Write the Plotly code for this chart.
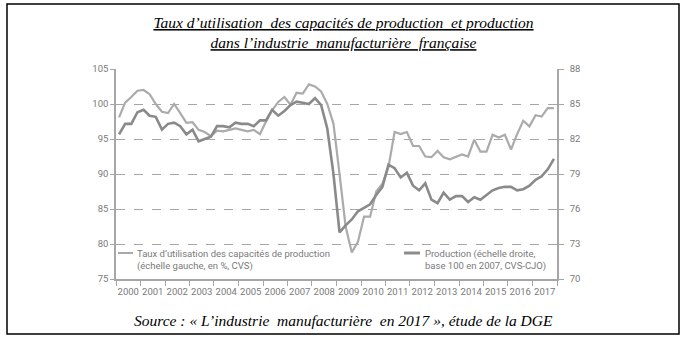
import plotly.graph_objects as go
import pandas as pd

# ---- data (quarterly, 2000Q1 - 2017Q4) ----
years = list(range(2000, 2018))
quarters = pd.period_range("2000Q1", "2017Q4", freq="Q")
q_mid = [p.start_time + (p.end_time - p.start_time) / 2 for p in quarters]

# Taux d'utilisation des capacités de production (left axis, %)
taux = [98.1, 100.2, 101.0, 101.9, 102.0, 101.4, 100.0, 98.9,
        98.7, 100.0, 98.7, 97.3, 97.4, 96.3, 96.0, 95.4,
        96.2, 96.1, 96.3, 96.5, 96.3, 96.1, 96.3, 95.7,
        97.5, 99.1, 100.3, 101.0, 99.9, 101.6, 101.5, 102.8,
        102.5, 101.8, 100.0, 97.2, 90.0, 82.5, 78.8, 80.3,
        83.9, 83.9, 87.5, 88.6, 91.0, 96.0, 95.7, 96.0,
        94.0, 94.0, 92.5, 92.4, 93.3, 92.4, 92.1, 92.5,
        92.8, 92.5, 94.9, 93.2, 93.2, 95.6, 95.2, 95.6,
        93.5, 95.7, 97.6, 96.8, 98.4, 98.2, 99.4, 99.4]

# Production (right axis)
production = [82.4, 83.3, 83.3, 84.3, 84.5, 84.0, 83.9, 82.8,
              83.3, 83.4, 83.1, 82.4, 82.8, 81.8, 82.0, 82.2,
              83.1, 83.1, 83.0, 83.4, 83.3, 83.3, 83.1, 83.6,
              83.6, 84.5, 84.0, 84.4, 84.9, 85.2, 85.1, 85.0,
              85.5, 84.9, 82.9, 79.0, 74.0, 74.6, 75.1, 75.8,
              76.1, 76.4, 77.2, 77.9, 79.8, 79.5, 78.7, 79.1,
              78.0, 77.6, 78.2, 76.8, 76.5, 77.4, 76.8, 77.1,
              77.1, 76.6, 77.0, 76.8, 77.2, 77.6, 77.8, 77.9,
              77.9, 77.6, 77.7, 78.0, 78.5, 78.8, 79.4, 80.3]

left_ticks = [75, 80, 85, 90, 95, 100, 105]
right_ticks = [70, 73, 76, 79, 82, 85, 88]

title_text = ("<u>Taux d’utilisation  des capacités de production  et production</u><br>"
              "<u>dans l’industrie  manufacturière  française</u>")
source_text = "Source : « L’industrie  manufacturière  en 2017 », étude de la DGE"
legend_taux = "Taux d’utilisation des capacités de production<br>(échelle gauche, en %, CVS)"
legend_prod = "Production (échelle droite,<br>base 100 en 2007, CVS-CJO)"

# ---- styles ----
C_TAUX = "#ababab"
C_PROD = "#8a8a8a"
AXIS_C = "#a6a6a6"
TXT_C = "#7a7a7a"
SANS = "Roboto, Noto Sans, sans-serif"
SERIF = "Liberation Serif, DejaVu Serif, serif"

fig = go.Figure()
fig.add_trace(go.Scatter(x=q_mid, y=taux, mode="lines", name="Taux",
                         line=dict(color=C_TAUX, width=2.2), yaxis="y", showlegend=False))
fig.add_trace(go.Scatter(x=q_mid, y=production, mode="lines", name="Production",
                         line=dict(color=C_PROD, width=2.6), yaxis="y2", showlegend=False))

fig.update_layout(
    width=687, height=341,
    margin=dict(l=116, r=130, t=69, b=62),
    plot_bgcolor="white", paper_bgcolor="white",
    showlegend=False,
    title=dict(text=title_text, x=0.5, xref="container", xanchor="center",
               y=1 - 28 / 341, yref="container", yanchor="middle",
               font=dict(family=SERIF, size=15.5, color="black", style="italic")),
    xaxis=dict(type="date", range=["2000-01-01", "2018-01-01"],
               tickvals=[f"{y}-07-02" for y in years], ticktext=[str(y) for y in years],
               ticks="", showgrid=False, zeroline=False,
               showline=True, linecolor=AXIS_C, linewidth=1.5,
               ticklabelstandoff=3,
               tickfont=dict(family=SANS, size=9.5, color=TXT_C),
               minor=dict(tickvals=[f"{y}-01-01" for y in range(2000, 2019)],
                          ticks="outside", ticklen=5, tickcolor=AXIS_C, tickwidth=1,
                          showgrid=False)),
    yaxis=dict(range=[75, 105], tickvals=left_ticks, showline=True,
               linecolor=AXIS_C, linewidth=1.5, ticks="outside", ticklen=4,
               tickcolor=AXIS_C, showgrid=True, gridcolor=AXIS_C, griddash="dash",
               gridwidth=1, zeroline=False,
               tickfont=dict(family=SANS, size=9.5, color=TXT_C)),
    yaxis2=dict(range=[70, 88], tickvals=right_ticks, overlaying="y", side="right",
                showline=True, linecolor=AXIS_C, linewidth=1.5, ticks="outside",
                ticklen=5, tickcolor=AXIS_C, showgrid=False, zeroline=False,
                ticklabelstandoff=4,
                tickfont=dict(family=SANS, size=9.5, color=TXT_C)),
)

PW, PH, L, B = 441.0, 210.0, 116.0, 279.0
def px(x):
    return (x - L) / PW
def py(y):
    return (B - y) / PH

# outer frame
fig.add_shape(type="rect", xref="paper", yref="paper",
              x0=px(7), x1=px(679), y0=py(334), y1=py(4),
              line=dict(color="black", width=1.5), layer="above")

# legend keys
fig.add_shape(type="line", xref="paper", yref="paper", x0=px(118), x1=px(133),
              y0=py(253), y1=py(253), line=dict(color="#8c8c8c", width=1.5))
fig.add_shape(type="line", xref="paper", yref="paper", x0=px(404), x1=px(420),
              y0=py(253), y1=py(253), line=dict(color="#8c8c8c", width=3))
fig.add_annotation(text=legend_taux, xref="paper", yref="paper", x=px(135), y=py(260),
                   xanchor="left", yanchor="middle", align="left", showarrow=False,
                   font=dict(family=SANS, size=9.5, color=TXT_C))
fig.add_annotation(text=legend_prod, xref="paper", yref="paper", x=px(423), y=py(260),
                   xanchor="left", yanchor="middle", align="left", showarrow=False,
                   font=dict(family=SANS, size=9.5, color=TXT_C))

# source
fig.add_annotation(text=source_text, xref="paper", yref="paper", x=px(343), y=py(320),
                   xanchor="center", yanchor="middle", showarrow=False,
                   font=dict(family=SERIF, size=15.5, color="black", style="italic"))

fig.write_html("out.html")
